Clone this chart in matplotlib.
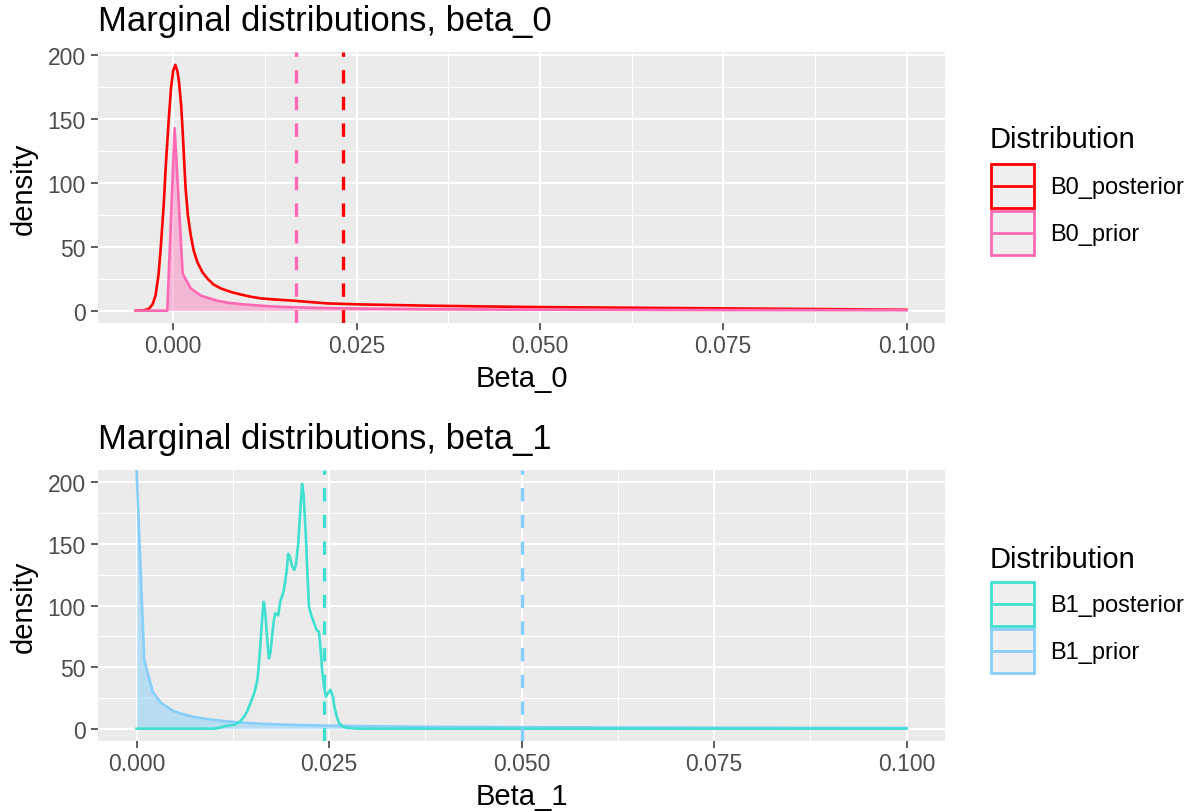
import matplotlib
matplotlib.use("Agg")
import matplotlib.pyplot as plt
from matplotlib.lines import Line2D
from matplotlib.patches import Patch, Rectangle
from matplotlib.ticker import MultipleLocator

plt.rcParams['font.family'] = ['Liberation Sans', 'DejaVu Sans']

# beta_0: density curves
b0_post_x = [-0.0051, -0.0040, -0.0033, -0.0028, -0.0024, -0.0020, -0.0017, -0.0013,
             -0.0010, -0.0006, -0.0003, 0.0000, 0.0003, 0.0006, 0.0008, 0.0011,
             0.0013, 0.0015, 0.0017, 0.0020, 0.0024, 0.0028, 0.0033, 0.0040, 0.0047,
             0.0055, 0.0065, 0.0078, 0.0092, 0.0105, 0.012, 0.014, 0.0165, 0.019,
             0.021, 0.0256, 0.0302, 0.035, 0.04, 0.05, 0.065, 0.08, 0.09, 0.1]
b0_post_y = [0, 0.3, 1.5, 5, 12, 28, 48.7, 82, 114, 150, 174, 188, 192.5, 187, 179,
             160, 140, 117, 95.5, 75, 59, 47, 38, 30, 25, 20.5, 17.4, 14.8, 12.7, 11,
             9.6, 8.7, 7.8, 6.6, 5.7, 4.9, 4.4, 3.9, 3.5, 2.8, 2.2, 1.6, 1.2, 0.7]
b0_prior_x = [-0.0051, -0.0008, 0.0002, 0.0013, 0.0024, 0.0038, 0.006, 0.0075,
              0.0097, 0.012, 0.0142, 0.017, 0.021, 0.025, 0.03, 0.04, 0.05, 0.075, 0.1]
b0_prior_y = [0, 0, 143, 29, 17.4, 11.7, 7.8, 6.2, 4.9, 3.9, 3.1, 2.6, 2.0, 1.7,
              1.4, 1.0, 0.8, 0.5, 0.4]
b0_means = [0.0231, 0.0167]   # posterior, prior
b0_labels = ['B0_posterior', 'B0_prior']

# beta_1: density curves
b1_post_x = [0.0, 0.0101, 0.0108, 0.0114, 0.0120, 0.0127, 0.0134, 0.0140, 0.0144,
             0.0148, 0.0153, 0.0157, 0.0159, 0.0161, 0.0163, 0.0165, 0.0166, 0.0168,
             0.0170, 0.0172, 0.0174, 0.0176, 0.0178, 0.0180, 0.0182, 0.0184, 0.0187,
             0.0190, 0.0192, 0.0195, 0.0197, 0.0199, 0.0202, 0.0205, 0.0207, 0.0210,
             0.0212, 0.0215, 0.0217, 0.0220, 0.0222, 0.0224, 0.0227, 0.0231, 0.0234,
             0.0237, 0.0239, 0.0241, 0.0244, 0.0246, 0.0249, 0.0252, 0.0255, 0.0257,
             0.0260, 0.0263, 0.0268, 0.0274, 0.029, 0.1]
b1_post_y = [0, 0, 0.7, 1.9, 2.6, 3.2, 5.5, 10, 14.5, 20.8, 29, 39.6, 52, 69.5, 88,
             103, 101, 88, 70, 57, 62, 74.7, 86, 93.6, 93, 92, 104, 109, 115, 128, 142,
             140, 132, 129, 133, 150, 170, 198.7, 190, 156, 125, 99, 92, 85, 80, 78.7,
             65, 47.7, 33, 26, 29, 31.5, 26, 18, 10, 4.6, 1.8, 0.6, 0, 0]
b1_prior_x = [0.0, 0.001, 0.0021, 0.0032, 0.0049, 0.0062, 0.0075, 0.0095, 0.0118,
              0.014, 0.0161, 0.02, 0.0248, 0.03, 0.035, 0.04, 0.05, 0.06, 0.075,
              0.085, 0.1]
b1_prior_y = [212, 56, 30, 20.8, 14, 11.5, 9.5, 7.5, 5.9, 4.8, 4.0, 3.1, 2.4, 2.0,
              1.7, 1.5, 1.2, 1.0, 0.8, 0.7, 0.6]
b1_means = [0.02435, 0.05]    # posterior, prior
b1_labels = ['B1_posterior', 'B1_prior']

W, H = 1192, 812
fig = plt.figure(figsize=(W / 100, H / 100), dpi=100)
ax0 = fig.add_axes([98 / W, 1 - 324 / H, 847 / W, 271 / H])
ax1 = fig.add_axes([98 / W, 1 - 742 / H, 847 / W, 271 / H])


class KeyHandler:
    # grey key box outlined in the series colour, with a centred line
    def legend_artist(self, legend, orig_handle, fontsize, handlebox):
        x0, y0 = handlebox.xdescent, handlebox.ydescent
        w, h = handlebox.width, handlebox.height
        c = orig_handle.get_edgecolor()
        rect = Rectangle((-x0, -y0), w, h, facecolor='#F0F0F0', edgecolor=c,
                         lw=2.0, transform=handlebox.get_transform())
        line = Line2D([-x0 + 2, -x0 + w - 2], [-y0 + h / 2] * 2, color=c, lw=2.0,
                      transform=handlebox.get_transform())
        handlebox.add_artist(rect)
        handlebox.add_artist(line)
        return rect


def style(ax, xlim, ylim, title, xlabel):
    ax.set_facecolor('#EBEBEB')
    for s in ax.spines.values():
        s.set_visible(False)
    ax.set_xlim(*xlim)
    ax.set_ylim(*ylim)
    ax.xaxis.set_minor_locator(MultipleLocator(0.0125))
    ax.yaxis.set_major_locator(MultipleLocator(50))
    ax.yaxis.set_minor_locator(MultipleLocator(25))
    ax.set_xticks([0, 0.025, 0.05, 0.075, 0.1])
    ax.set_xticklabels(['0.000', '0.025', '0.050', '0.075', '0.100'])
    ax.grid(which='major', color='white', lw=1.5)
    ax.grid(which='minor', color='white', lw=0.75)
    ax.set_axisbelow(True)
    ax.tick_params(which='major', length=4.7, width=1.1, color='#333333',
                   labelsize=16.5, labelcolor='#4D4D4D', pad=3)
    ax.tick_params(axis='y', pad=4)
    ax.tick_params(which='minor', length=0)
    ax.set_title(title, loc='left', fontsize=24.9, pad=15.5)
    ax.set_xlabel(xlabel, fontsize=21, labelpad=5)
    ax.set_ylabel('density', fontsize=21, labelpad=7)


def add_legend(colors, labels, title_base, key_top):
    handles = [Patch(facecolor='#F0F0F0', edgecolor=c) for c in colors]
    fig.text(990 / W, 1 - title_base / H, 'Distribution', fontsize=21,
             ha='left', va='baseline')
    fig.legend(handles, labels, loc='upper left',
               bbox_to_anchor=(991 / W, 1 - key_top / H),
               handler_map={Patch: KeyHandler()},
               frameon=False, fontsize=17, borderpad=0,
               handlelength=1.82, handleheight=2.49, labelspacing=0.12,
               handletextpad=0.68, borderaxespad=0)


# top panel
style(ax0, (-0.01025, 0.10525), (-9.65, 202.6),
      'Marginal distributions, beta_0', 'Beta_0')
ax0.plot(b0_post_x, b0_post_y, color='#FF0000', lw=1.9)
ax0.fill_between(b0_prior_x, b0_prior_y, color='#FF69B4', alpha=0.4, lw=0)
ax0.plot(b0_prior_x, b0_prior_y, color='#FF69B4', lw=1.9)
ax0.axvline(b0_means[1], color='#FF69B4', lw=2.4, ls=(0, (4, 4)))
ax0.axvline(b0_means[0], color='#FF0000', lw=2.4, ls=(0, (4, 4)))
add_legend(['#FF0000', '#FF69B4'], b0_labels, 147.6, 165)

# bottom panel
style(ax1, (-0.005, 0.105), (-10, 210),
      'Marginal distributions, beta_1', 'Beta_1')
ax1.fill_between(b1_prior_x, b1_prior_y, color='#87CEFA', alpha=0.5, lw=0)
ax1.plot(b1_prior_x, b1_prior_y, color='#87CEFA', lw=1.9)
ax1.plot(b1_post_x, b1_post_y, color='#40E0D0', lw=1.9)
ax1.axvline(b1_means[0], color='#40E0D0', lw=2.4, ls=(0, (4, 4)))
ax1.axvline(b1_means[1], color='#87CEFA', lw=2.4, ls=(0, (4, 4)))
add_legend(['#40E0D0', '#87CEFA'], b1_labels, 567.6, 583)

fig.savefig('out.png', dpi=100)
